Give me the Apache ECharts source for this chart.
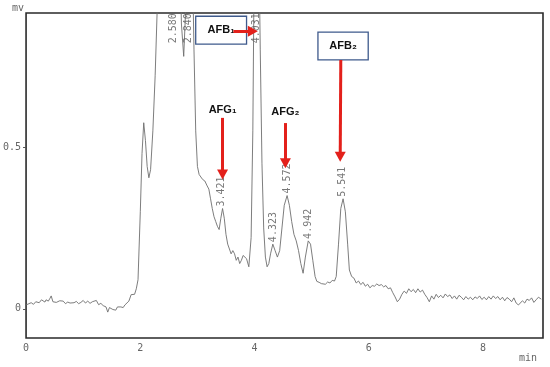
<!DOCTYPE html>
<html lang="en">
<head>
    <meta charset="UTF-8">
    <title>Chromatogram</title>
    <script src="https://cdn.jsdelivr.net/npm/echarts@6/dist/echarts.min.js"></script>
</head>
<style>
    *{
        margin: 0;
        padding: 0;
    }
    html , body{
        width: 550px;
        height: 367px;
        background: #fff;
    }
    .container{
        width: 550px;
        height: 367px;
    }
</style>
<body>
<div class="container"></div>
<script>
    // detector trace, [time (min), signal (mV)]
    let trace = [
        [0,0.012],[0.05,0.016],[0.09,0.019],[0.13,0.014],[0.17,0.022],[0.2,0.017],[0.23,0.019],[0.27,0.028],
        [0.3,0.025],[0.33,0.021],[0.35,0.028],[0.39,0.024],[0.42,0.033],[0.44,0.04],[0.47,0.022],[0.49,0.028],
        [0.53,0.02],[0.56,0.015],[0.59,0.025],[0.61,0.019],[0.65,0.024],[0.69,0.016],[0.73,0.021],[0.77,0.018],
        [0.8,0.024],[0.84,0.019],[0.88,0.023],[0.92,0.016],[0.96,0.02],[1.0,0.026],[1.04,0.018],[1.08,0.024],
        [1.12,0.017],[1.16,0.022],[1.19,0.019],[1.23,0.026],[1.27,0.013],[1.31,0.017],[1.35,0.01],[1.4,0.006],
        [1.43,-0.01],[1.46,0.004],[1.49,0.008],[1.52,-0.002],[1.55,0.004],[1.57,-0.004],[1.6,0.006],[1.63,0.0],
        [1.66,0.006],[1.7,0.004],[1.73,0.012],[1.76,0.01],[1.8,0.024],[1.84,0.044],[1.87,0.05],[1.9,0.045],
        [1.93,0.062],[1.96,0.09],
        [2.0,0.3],[2.03,0.48],[2.06,0.575],[2.09,0.52],[2.12,0.44],[2.15,0.405],[2.18,0.43],[2.22,0.55],
        [2.26,0.72],[2.3,0.95],[2.4,1.4],[2.58,1.8],[2.68,1.2],[2.72,0.88],[2.76,0.78],[2.8,0.95],[2.84,1.5],
        [2.9,1.2],[2.94,0.8],[2.97,0.55],[3.0,0.44],[3.03,0.415],[3.06,0.42],[3.09,0.4],[3.13,0.395],[3.17,0.38],
        [3.2,0.37],[3.23,0.34],[3.26,0.31],[3.29,0.285],[3.32,0.27],[3.35,0.255],[3.38,0.245],[3.41,0.28],
        [3.44,0.31],[3.47,0.28],[3.5,0.23],[3.53,0.2],[3.56,0.185],[3.59,0.17],[3.62,0.18],[3.65,0.17],
        [3.68,0.15],[3.71,0.16],[3.74,0.14],[3.77,0.15],[3.8,0.165],[3.83,0.17],[3.86,0.155],[3.9,0.13],
        [3.94,0.22],[3.97,0.55],[4.0,1.2],[4.03,1.8],[4.07,1.2],[4.1,0.8],[4.13,0.45],[4.16,0.25],[4.19,0.16],
        [4.22,0.13],[4.25,0.14],[4.28,0.17],[4.32,0.2],[4.36,0.18],[4.4,0.16],[4.44,0.18],[4.48,0.25],
        [4.52,0.32],[4.57,0.35],[4.61,0.32],[4.65,0.27],[4.69,0.23],[4.73,0.21],[4.77,0.18],[4.81,0.14],
        [4.85,0.11],[4.89,0.16],[4.94,0.21],[4.98,0.2],[5.02,0.15],[5.06,0.1],[5.09,0.085],[5.13,0.082],
        [5.17,0.078],[5.2,0.084],[5.24,0.076],[5.28,0.083],[5.32,0.08],[5.36,0.088],[5.4,0.086],[5.43,0.1],
        [5.47,0.2],[5.51,0.31],[5.55,0.34],[5.59,0.3],[5.63,0.2],[5.66,0.12],[5.7,0.1],[5.74,0.095],
        [5.78,0.08],[5.82,0.086],[5.86,0.075],[5.9,0.082],[5.94,0.07],[5.98,0.076],
        [6.02,0.065],[6.06,0.072],[6.1,0.07],[6.14,0.077],[6.18,0.072],[6.22,0.075],[6.26,0.068],[6.3,0.072],
        [6.34,0.062],[6.38,0.065],[6.42,0.05],[6.46,0.037],[6.5,0.022],[6.54,0.03],[6.58,0.045],[6.62,0.055],
        [6.66,0.048],[6.7,0.062],[6.74,0.053],[6.78,0.06],[6.82,0.05],[6.86,0.062],[6.9,0.052],[6.94,0.058],
        [6.98,0.045],[7.02,0.035],[7.06,0.022],[7.1,0.04],[7.14,0.03],[7.18,0.045],[7.22,0.035],[7.26,0.042],
        [7.3,0.034],[7.34,0.046],[7.38,0.038],[7.42,0.043],[7.46,0.032],[7.5,0.04],[7.54,0.03],[7.58,0.042],
        [7.62,0.036],[7.66,0.028],[7.7,0.038],[7.74,0.03],[7.78,0.036],[7.82,0.028],[7.86,0.037],[7.9,0.032],
        [7.94,0.04],[7.98,0.029],[8.02,0.036],[8.06,0.028],[8.1,0.038],[8.14,0.03],[8.18,0.04],[8.22,0.032],
        [8.26,0.038],[8.3,0.028],[8.34,0.036],[8.38,0.025],[8.42,0.035],[8.46,0.03],[8.5,0.022],[8.54,0.034],
        [8.58,0.018],[8.62,0.012],[8.65,0.006],[8.69,0.025],[8.73,0.018],[8.77,0.03],[8.81,0.026],[8.85,0.034],
        [8.89,0.02],[8.93,0.028],[8.97,0.036],[9.02,0.03]
    ];

    // integrated peaks
    let peakTimes = [2.580, 2.840, 3.421, 4.031, 4.323, 4.572, 4.942, 5.541];
    let peakHeights = [1.8, 1.5, 0.31, 1.8, 0.2, 0.35, 0.21, 0.34];

    // axis
    let xTicks = [0, 2, 4, 6, 8];
    let yTicks = [0, 0.5];
    let xMax = 9.05;
    let yMin = -0.09;
    let yMax = 0.914;

    // annotations (data coords)
    let boxNames = ['AFB\u2081', 'AFB\u2082'];
    let boxRanges = [[[2.97, 0.818], [3.86, 0.904]], [[5.11, 0.769], [5.99, 0.855]]];
    let textNames = ['AFG\u2081', 'AFG\u2082'];
    let textPos = [[3.44, 0.614], [4.54, 0.608]];
    let arrows = [
        [[3.63, 0.858], [3.97, 0.858]],
        [[5.51, 0.769], [5.50, 0.47]],
        [[3.44, 0.590], [3.44, 0.415]],
        [[4.54, 0.574], [4.54, 0.45]]
    ];

    let container = document.querySelector('.container');
    let mycharts = echarts.init(container);

    let mono = 'DejaVu Sans Mono';
    let labelData = peakTimes.map((t, i) => ({
        value: [t, Math.min(peakHeights[i], yMax - 0.1)],
        name: t.toFixed(3)
    }));

    let options = {
        backgroundColor: '#fff',
        animation: false,
        grid: {
            left: 25, right: 7, top: 13, bottom: 29,
            show: true,
            borderColor: '#2a2a2a',
            borderWidth: 1.6,
            backgroundColor: 'transparent'
        },
        xAxis: {
            type: 'value',
            min: 0,
            max: xMax,
            axisLine: {show: false},
            axisTick: {show: false},
            splitLine: {show: false},
            axisLabel: {
                customValues: xTicks,
                margin: 5,
                fontFamily: mono,
                fontSize: 10,
                color: '#666'
            }
        },
        yAxis: {
            type: 'value',
            min: yMin,
            max: yMax,
            axisLine: {show: false},
            splitLine: {show: false},
            axisTick: {
                show: true,
                customValues: yTicks,
                length: 3,
                lineStyle: {color: '#555'}
            },
            axisLabel: {
                customValues: yTicks,
                margin: 5,
                fontFamily: mono,
                fontSize: 10,
                color: '#666',
                formatter: v => String(v)
            }
        },
        graphic: [
            {type: 'text', left: 12, top: 3, style: {text: 'mv', font: '10px ' + mono, fill: '#666'}},
            {type: 'text', left: 519, top: 353, style: {text: 'min', font: '10px ' + mono, fill: '#666'}}
        ],
        series: [
            {
                type: 'line',
                data: trace,
                showSymbol: false,
                clip: true,
                lineStyle: {color: '#6e6e6e', width: 0.9},
                silent: true,
                z: 3,
                markArea: {
                    silent: true,
                    itemStyle: {color: '#fff', opacity: 1, borderColor: '#3e5a8c', borderWidth: 1.3},
                    label: {
                        show: true,
                        position: 'inside',
                        fontFamily: 'Liberation Sans',
                        fontWeight: 'bold',
                        fontSize: 11,
                        color: '#111'
                    },
                    data: boxRanges.map((r, i) => [
                        {name: boxNames[i], coord: r[0]},
                        {coord: r[1]}
                    ])
                }
            },
            {
                type: 'scatter',
                data: labelData,
                symbolSize: 0,
                silent: true,
                z: 4,
                label: {
                    show: true,
                    formatter: '{b}',
                    position: 'top',
                    distance: 2,
                    rotate: 90,
                    align: 'left',
                    verticalAlign: 'middle',
                    fontFamily: mono,
                    fontSize: 10,
                    color: '#555'
                }
            },
            {
                type: 'line',
                data: [],
                silent: true,
                z: 6,
                markLine: {
                    silent: true,
                    symbol: ['none', 'triangle'],
                    symbolSize: [11, 10],
                    label: {show: false},
                    lineStyle: {color: '#e3201b', width: 3, type: 'solid'},
                    data: arrows.map(a => [{coord: a[0]}, {coord: a[1]}])
                },
                markPoint: {
                    silent: true,
                    symbol: 'circle',
                    symbolSize: 1,
                    itemStyle: {color: 'transparent'},
                    label: {
                        show: true,
                        position: 'inside',
                        formatter: '{b}',
                        fontFamily: 'Liberation Sans',
                        fontWeight: 'bold',
                        fontSize: 11,
                        color: '#111'
                    },
                    data: textNames.map((n, i) => ({name: n, coord: textPos[i]}))
                }
            }
        ]
    };

    mycharts.setOption(options);
</script>
</body>
</html>
